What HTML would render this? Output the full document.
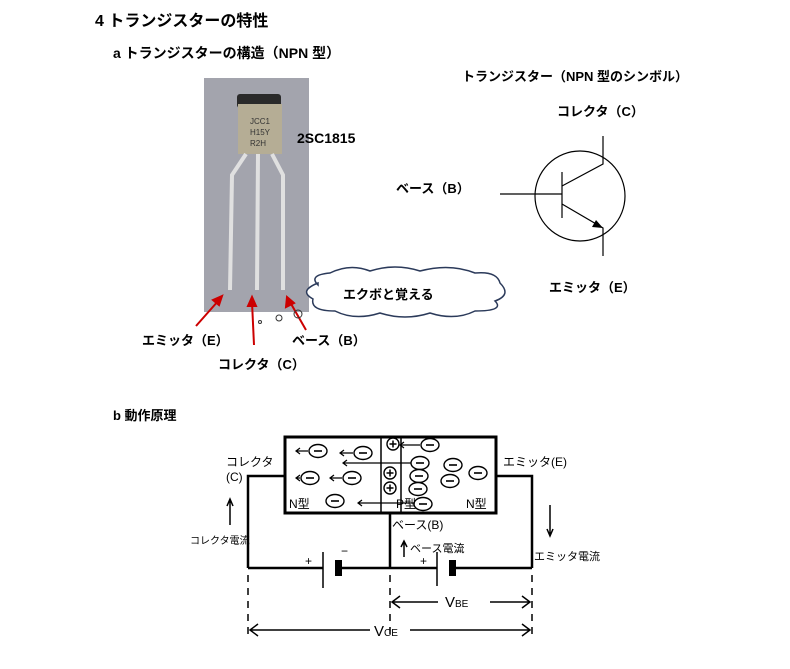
<!DOCTYPE html>
<html><head><meta charset="utf-8"><style>
body{margin:0;background:#fff;}
svg{display:block;font-family:"Liberation Sans","Noto Sans CJK JP",sans-serif;font-weight:bold;}
</style></head><body>
<svg width="790" height="669" viewBox="0 0 790 669" xmlns="http://www.w3.org/2000/svg">
<defs>
<g id="e"><ellipse cx="0" cy="0" rx="9" ry="6.5" fill="#fff" stroke="#000" stroke-width="1.4"/><line x1="-4" y1="0" x2="4" y2="0" stroke="#000" stroke-width="1.6"/></g>
<g id="p"><circle cx="0" cy="0" r="6" fill="#fff" stroke="#000" stroke-width="1.4"/><path d="M-3.5 0H3.5M0 -3.5V3.5" stroke="#000" stroke-width="1.5"/></g>
</defs>
<text x="95" y="26" font-size="16">4  トランジスターの特性</text>
<text x="113" y="58" font-size="14">a  トランジスターの構造（NPN 型）</text>
<text x="462" y="81" font-size="13">トランジスター（NPN 型のシンボル）</text>
<rect x="204" y="78" width="105" height="234" fill="#a3a4ad"/>
<rect x="237" y="94" width="44" height="14" fill="#2a2a2a" rx="3"/>
<rect x="238" y="104" width="44" height="50" fill="#b5ad95"/>
<text x="250" y="124" font-size="8" font-weight="normal" fill="#333">JCC1</text>
<text x="250" y="135" font-size="8" font-weight="normal" fill="#333">H15Y</text>
<text x="250" y="146" font-size="8" font-weight="normal" fill="#333">R2H</text>
<path d="M246 154 L232 175 L230 290 M258 154 L257 290 M272 154 L283 175 L283 290" stroke="#e0e0e0" stroke-width="4" fill="none"/>
<text x="297" y="143" font-size="14">2SC1815</text>
<g stroke="#c00" stroke-width="2" fill="#c00">
<line x1="196" y1="326" x2="219" y2="300"/><polygon points="222,296 213,300 219,305"/>
<line x1="254" y1="345" x2="252" y2="302"/><polygon points="252,297 248,306 256,306"/>
<line x1="306" y1="330" x2="290" y2="302"/><polygon points="287,297 286,307 294,303"/>
</g>
<text x="142" y="345" font-size="13">エミッタ（E）</text>
<text x="218" y="369" font-size="13">コレクタ（C）</text>
<text x="292" y="345" font-size="13">ベース（B）</text>
<path d="M318 285 q-10-10 12-12 q20-10 40-2 q25-8 50 0 q30-8 55 2 q22-2 25 10 q12 12-5 18 q10 10-20 10 q-20 10-45 2 q-25 8-50 0 q-25 8-45-2 q-25 0-22-12 q-15-8 5-16z" fill="#fff" stroke="#2b3a5a" stroke-width="1.5"/>
<text x="343" y="299" font-size="13">エクボと覚える</text>
<circle cx="260" cy="322" r="1.5" fill="none" stroke="#333"/>
<circle cx="279" cy="318" r="3" fill="none" stroke="#333"/>
<circle cx="298" cy="314" r="4" fill="none" stroke="#333"/>
<text x="557" y="116" font-size="13">コレクタ（C）</text>
<text x="396" y="193" font-size="13">ベース（B）</text>
<text x="549" y="292" font-size="13">エミッタ（E）</text>
<circle cx="580" cy="196" r="45" fill="none" stroke="#000" stroke-width="1.2"/>
<g stroke="#000" stroke-width="1.2" fill="none">
<line x1="500" y1="194" x2="562" y2="194"/>
<line x1="562" y1="172" x2="562" y2="218"/>
<path d="M562 186 L603 164 L603 136"/>
<path d="M562 204 L603 228 L603 256"/>
</g>
<polygon points="603,228 592,227 596,220" fill="#000"/>
<text x="113" y="420" font-size="13">b  動作原理</text>
<g stroke="#000" fill="none">
<rect x="285" y="437" width="211" height="76" stroke-width="3"/>
<line x1="381" y1="437" x2="381" y2="513" stroke-width="1.5"/>
<line x1="401" y1="437" x2="401" y2="513" stroke-width="1.5"/>
<path d="M248 568 V476 H285 M532 568 V476 H496 M390 513 V568 M248 568 H323 M341 568 H437 M453 568 H532" stroke-width="2.5"/>
<line x1="323" y1="552" x2="323" y2="588" stroke-width="1.5"/>
<line x1="437" y1="552" x2="437" y2="586" stroke-width="1.5"/>
<path d="M248 575 V640 M390 575 V640 M532 575 V640" stroke-width="1.5" stroke-dasharray="7,6"/>
<path d="M392 602 H438 M490 602 H530 M400 596 L392 602 L400 608 M522 596 L530 602 L522 608" stroke-width="1.5"/>
<path d="M250 630 H370 M410 630 H530 M258 624 L250 630 L258 636 M522 624 L530 630 L522 636" stroke-width="1.5"/>
<path d="M230 525 V500 M227 506 L230 499 L233 506 M550 505 V535 M547 529 L550 536 L553 529 M404 557 V542 M401 547 L404 541 L407 547" stroke-width="1.5"/>
<!-- electron arrows -->
<g stroke-width="1.2">
<path d="M296 451H308 M300 448L296 451L300 454"/>
<path d="M340 453H353 M344 450L340 453L344 456"/>
<path d="M296 478H300 M300 475L296 478L300 481"/>
<path d="M330 478H342 M334 475L330 478L334 481"/>
<path d="M343 463H412 M347 460L343 463L347 466"/>
<path d="M358 503H420 M362 500L358 503L362 506"/>
<path d="M400 445H420 M404 442L400 445L404 448"/>
</g>
</g>
<rect x="335" y="560" width="7" height="16" fill="#000"/>
<rect x="449" y="560" width="7" height="16" fill="#000"/>
<use href="#e" x="318" y="451"/><use href="#e" x="363" y="453"/>
<use href="#e" x="310" y="478"/><use href="#e" x="352" y="478"/>
<use href="#e" x="335" y="501"/>
<use href="#p" x="393" y="444"/><use href="#p" x="390" y="473"/><use href="#p" x="390" y="488"/>
<use href="#e" x="430" y="445"/><use href="#e" x="420" y="463"/><use href="#e" x="419" y="476"/>
<use href="#e" x="418" y="489"/><use href="#e" x="423" y="504"/>
<use href="#e" x="453" y="465"/><use href="#e" x="450" y="481"/><use href="#e" x="478" y="473"/>
<g font-size="11" font-weight="normal">
<text x="289" y="508" font-size="12">N型</text>
<text x="396" y="508" font-size="12">P型</text>
<text x="466" y="508" font-size="12">N型</text>
<text x="226" y="466" font-size="12">コレクタ</text>
<text x="226" y="481" font-size="12">(C)</text>
<text x="503" y="466" font-size="12">エミッタ(E)</text>
<text x="392" y="529" font-size="12">ベース(B)</text>
<text x="410" y="552" font-size="11">ベース電流</text>
<text x="190" y="544" font-size="10">コレクタ電流</text>
<text x="534" y="560" font-size="11">エミッタ電流</text>
<text x="305" y="565" font-size="12">+</text>
<text x="341" y="555" font-size="12">−</text>
<text x="420" y="565" font-size="12">+</text>
<text x="455" y="555" font-size="12">−</text>
<text x="445" y="607" font-size="15">V<tspan font-size="10">BE</tspan></text>
<text x="374" y="636" font-size="15">V<tspan font-size="10">CE</tspan></text>
</g>
</svg>
</body></html>
